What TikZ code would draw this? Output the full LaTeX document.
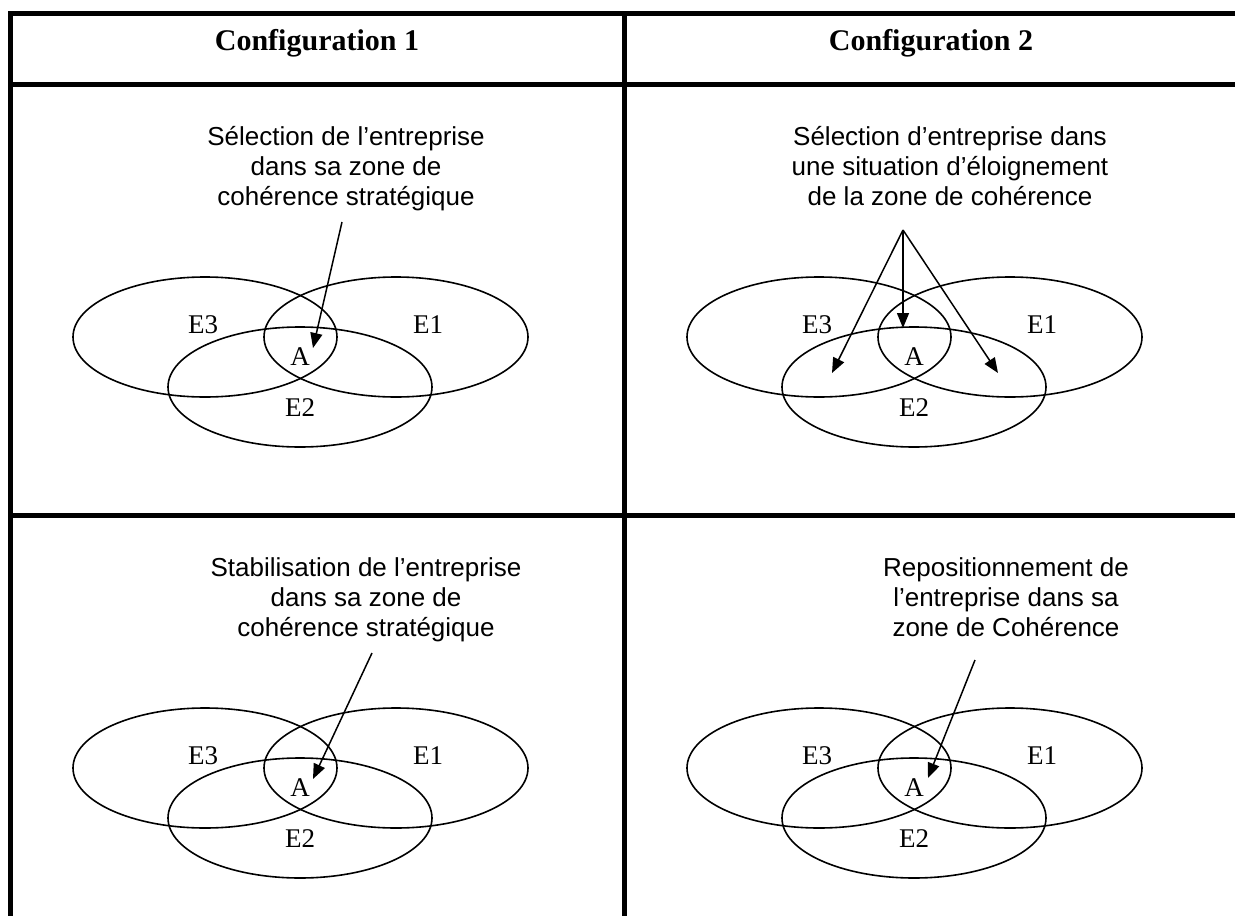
\documentclass[tikz,border=0pt]{standalone}
\usepackage{fontspec}
\setmainfont{Liberation Serif}
\newfontfamily\arialfont{Liberation Sans}
\usetikzlibrary{arrows.meta}
\tikzset{
  rule/.style={line width=5bp, line cap=rect},
  venn/.style={line width=1.6bp},
  ptr/.style={line width=1.5bp, -{Triangle[length=15bp,width=12bp]}},
  head/.style={font=\fontsize{30bp}{34bp}\selectfont\bfseries, inner sep=0pt, anchor=base},
  caption/.style={font=\arialfont\fontsize{26bp}{30bp}\selectfont, inner sep=0pt, anchor=base},
  setlbl/.style={font=\fontsize{27bp}{30bp}\selectfont, inner sep=0pt}
}
\newcommand{\venncell}[1]{%
  \draw[venn] (205,337) ellipse [x radius=132, y radius=60];
  \draw[venn] (396,337) ellipse [x radius=132, y radius=60];
  \draw[venn] (300,387) ellipse [x radius=132, y radius=60];
  \node[setlbl] (e3#1) at (203,325) {E3};
  \node[setlbl] (e1#1) at (428,325) {E1};
  \node[setlbl] (a#1) at (300,357) {A};
  \node[setlbl] (e2#1) at (300,408) {E2};
}
\begin{document}
\begin{tikzpicture}[x=1bp,y=-1bp]
\useasboundingbox (0,0) rectangle (1235,916);
% table rules
\coordinate (tl) at (10.5,13.5);
\coordinate (tr) at (1240,13.5);
\coordinate (hl) at (10.5,84.5);
\coordinate (hr) at (1240,84.5);
\coordinate (rl) at (10.5,515.5);
\coordinate (rr) at (1240,515.5);
\coordinate (bl) at (10.5,920);
\coordinate (mt) at (624.5,13.5);
\coordinate (mb) at (624.5,920);
\draw[rule] (tl) -- (tr);
\draw[rule] (hl) -- (hr);
\draw[rule] (rl) -- (rr);
\draw[rule] (tl) -- (bl);
\draw[rule] (mt) -- (mb);
% headers
\node[head] (h1) at (317,50) {Configuration 1};
\node[head] (h2) at (931,50) {Configuration 2};
% cell 1
\begin{scope}
  \node[caption] (c1a) at (346,145) {Sélection de l’entreprise};
  \node[caption] (c1b) at (346,175) {dans sa zone de};
  \node[caption] (c1c) at (346,205) {cohérence stratégique};
  \venncell{1}
  \coordinate (s1) at (342,222);
  \coordinate (t1) at (313,348);
  \draw[ptr] (s1) -- (t1);
\end{scope}
% cell 2
\begin{scope}[shift={(614,0)}]
  \node[caption] (c2a) at (336,145) {Sélection d’entreprise dans};
  \node[caption] (c2b) at (336,175) {une situation d’éloignement};
  \node[caption] (c2c) at (336,205) {de la zone de cohérence};
  \venncell{2}
  \coordinate (s2) at (289,230);
  \coordinate (t2a) at (289,328);
  \coordinate (t2b) at (218,373);
  \coordinate (t2c) at (384,373);
  \draw[ptr] (s2) -- (t2a);
  \draw[ptr] (s2) -- (t2b);
  \draw[ptr] (s2) -- (t2c);
\end{scope}
% cell 3
\begin{scope}[shift={(0,431)}]
  \node[caption] (c3a) at (366,145) {Stabilisation de l’entreprise};
  \node[caption] (c3b) at (366,175) {dans sa zone de};
  \node[caption] (c3c) at (366,205) {cohérence stratégique};
  \venncell{3}
  \coordinate (s3) at (372,222);
  \coordinate (t3) at (313,348);
  \draw[ptr] (s3) -- (t3);
\end{scope}
% cell 4
\begin{scope}[shift={(614,431)}]
  \node[caption] (c4a) at (392,145) {Repositionnement de};
  \node[caption] (c4b) at (392,175) {l’entreprise dans sa};
  \node[caption] (c4c) at (392,205) {zone de Cohérence};
  \venncell{4}
  \coordinate (s4) at (361,229);
  \coordinate (t4) at (314,347);
  \draw[ptr] (s4) -- (t4);
\end{scope}
\end{tikzpicture}
\end{document}
